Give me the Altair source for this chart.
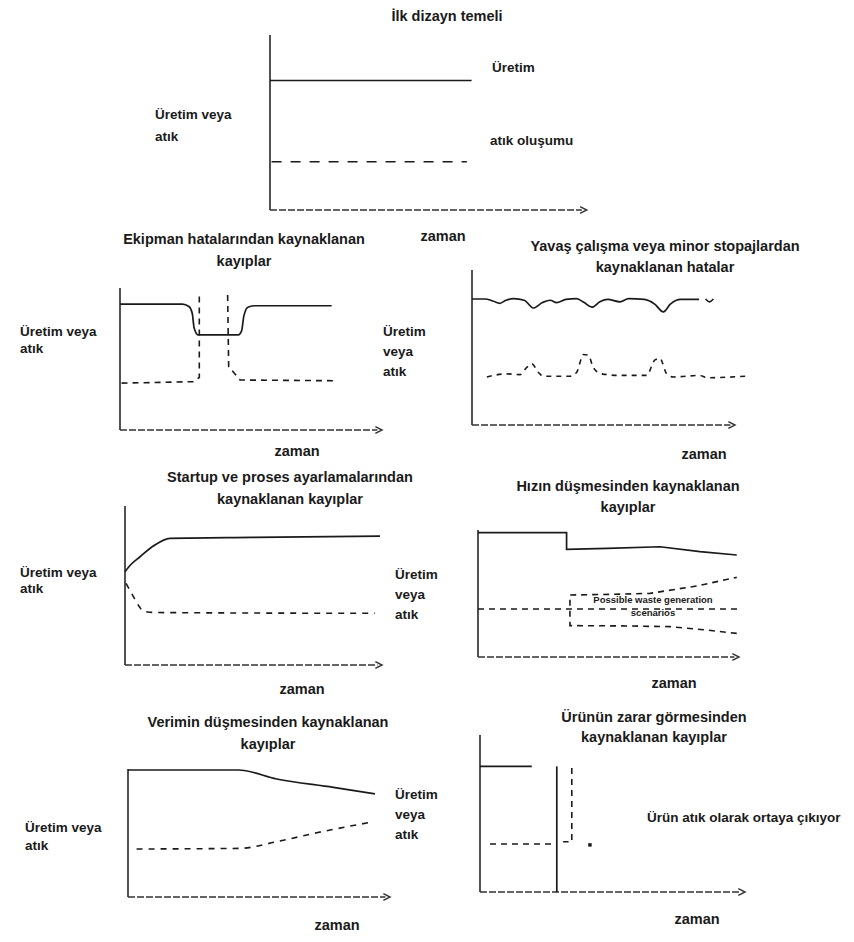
import altair as alt
import pandas as pd

# ------------------------------------------------------------------
# DATA  (local units: time 0-100 along the drawn time axis,
#        level 0-100 up the drawn vertical axis of each small diagram)
# ------------------------------------------------------------------
# 1) İlk dizayn temeli
TOP_PROD_X = [0, 64]
TOP_PROD_Y = [74, 74]
TOP_WASTE_X = [0.5, 62.5]
TOP_WASTE_Y = [27.6, 27.6]

# 2) Ekipman hatalarından kaynaklanan kayıplar
EQ_PROD_X = [0, 24, 26.5, 27.8, 28.5, 30, 45.5, 46.8, 47.6, 49.2, 52, 81.4]
EQ_PROD_Y = [88.7, 88.7, 87, 82, 72, 67, 67, 70, 80, 86.5, 87.5, 87.5]
EQ_WASTE_A_X = [0.6, 28, 30.5, 30.5]
EQ_WASTE_A_Y = [33, 34, 37, 95]
EQ_WASTE_B_X = [41.4, 41.8, 46.2, 82.7]
EQ_WASTE_B_Y = [95, 44.6, 35.2, 34.7]

# 3) Yavaş çalışma veya minor stopajlardan kaynaklanan hatalar
SLOW_PROD_X = [0, 5, 8, 10.7, 13, 16, 20, 23.5, 27, 30, 32.4, 36, 40, 43, 46,
               49, 52, 56.7, 60, 66, 70, 73.3, 76, 80, 87]
SLOW_PROD_Y = [81.3, 81.3, 80, 78.5, 80.5, 81.5, 80.5, 75.5, 79, 80.5, 79, 81,
               81.5, 79, 76, 79.5, 81, 79.5, 81.5, 81, 78, 73, 78, 81, 81]
SLOW_TAIL_X = [89.5, 91, 92.5]
SLOW_TAIL_Y = [81.3, 79.5, 81.3]
SLOW_WASTE_X = [5.7, 13.3, 18.4, 20.9, 22.9, 25.4, 27.3, 37.5, 40.1, 42.7, 44.6,
                46.5, 49.7, 56.7, 66.9, 70.1, 72, 74.6, 77.1, 87.4, 89.9, 105.2]
SLOW_WASTE_Y = [31, 33, 32.5, 37, 39.5, 34, 31.5, 31.5, 34, 45.5, 45, 37, 33,
                32, 32, 42, 43, 33, 31, 32, 30.5, 31.5]

# 4) Startup ve proses ayarlamalarından kaynaklanan kayıplar
START_PROD_X = [0, 2.5, 5.9, 11.1, 17.6, 50, 100]
START_PROD_Y = [58.7, 63.5, 68.1, 74.8, 79.7, 80.3, 81.1]
START_WASTE_X = [0.4, 3.3, 5.5, 7.2, 12, 98]
START_WASTE_Y = [51.4, 43, 37, 33.8, 33, 32.5]

# 5) Hızın düşmesinden kaynaklanan kayıplar
SPEED_PROD_X = [0, 34.2, 34.2, 50, 70.3, 85.7, 99.9]
SPEED_PROD_Y = [97.9, 97.9, 84.8, 85.5, 86.8, 82.9, 80.3]
SPEED_WASTE_X = [0, 100]
SPEED_WASTE_Y = [37.8, 37.8]
SPEED_RANGE_X = [99.9, 87, 74.1, 55, 35.5, 35.5, 55, 66.4, 84.4, 99.9]
SPEED_RANGE_Y = [18.6, 21.5, 23.9, 24.5, 24.7, 48.8, 49.5, 50.1, 55.9, 62.7]

# 6) Verimin düşmesinden kaynaklanan kayıplar
YIELD_PROD_X = [0, 42.4, 57.2, 79, 95]
YIELD_PROD_Y = [99.2, 99.2, 92.2, 85.7, 80.5]
YIELD_WASTE_X = [3.3, 43, 57.2, 72.6, 93.1]
YIELD_WASTE_Y = [37.5, 38, 43.2, 50.2, 58.3]

# 7) Ürünün zarar görmesinden kaynaklanan kayıplar
DMG_PROD_X = [0, 19.7]
DMG_PROD_Y = [80, 80]
DMG_DROP_X = [29.2, 29.2]
DMG_DROP_Y = [80, 0]
DMG_WASTE_X = [3.8, 28.5]
DMG_WASTE_Y = [30.6, 30.6]
DMG_SCRAP_X = [34.9, 34.9, 31.6]
DMG_SCRAP_Y = [79, 32, 32]
DMG_DOT_X = [41.8]
DMG_DOT_Y = [30]

# ---------------- text content ----------------
TITLES = {
    "top": ["İlk dizayn temeli"],
    "eq": ["Ekipman hatalarından kaynaklanan", "kayıplar"],
    "slow": ["Yavaş çalışma veya minor stopajlardan", "kaynaklanan hatalar"],
    "start": ["Startup ve proses ayarlamalarından", "kaynaklanan kayıplar"],
    "speed": ["Hızın düşmesinden kaynaklanan", "kayıplar"],
    "yield": ["Verimin düşmesinden kaynaklanan", "kayıplar"],
    "dmg": ["Ürünün zarar görmesinden", "kaynaklanan kayıplar"],
}
Y_LABEL_2 = ["Üretim veya", "atık"]
Y_LABEL_3 = ["Üretim", "veya", "atık"]
X_LABEL = "zaman"
TOP_NOTES = ["Üretim", "atık oluşumu"]
DMG_NOTE = ["Ürün atık olarak ortaya çıkıyor"]
BOX_NOTE = ["Possible waste generation", "scenarios"]

# ------------------------------------------------------------------
# LAYOUT (page pixels): cell rectangle, axis origin and axis lengths
# ------------------------------------------------------------------
PANELS = {
    "top":   dict(rect=(8, 8, 392, 220),   origin=(270, 210), length=(315, 175)),
    "eq":    dict(rect=(8, 228, 392, 237), origin=(120, 430), length=(260, 142)),
    "slow":  dict(rect=(400, 228, 446, 237), origin=(472, 425), length=(261, 155)),
    "start": dict(rect=(8, 465, 392, 240), origin=(125, 665), length=(255, 159)),
    "speed": dict(rect=(400, 465, 446, 240), origin=(478, 657), length=(259, 127)),
    "yield": dict(rect=(8, 705, 392, 229), origin=(128, 897), length=(260, 128)),
    "dmg":   dict(rect=(400, 705, 446, 229), origin=(480, 892), length=(263, 157)),
}
BLANK_CELL = (446, 220)
# (x, first-line y, line gap) for titles, y labels; (x, y) for "zaman"
TITLE_POS = {"top": (447, 17, 22), "eq": (244, 240, 22), "slow": (665, 247, 21),
             "start": (290, 478, 22), "speed": (628, 487, 21),
             "yield": (268, 723, 22), "dmg": (654, 718, 20)}
YLAB_POS = {"top": (155, 115, 22), "eq": (20, 332, 17), "slow": (383, 332, 20),
            "start": (20, 573, 16), "speed": (395, 575, 20),
            "yield": (25, 828, 18), "dmg": (395, 795, 20)}
YLAB_TEXT = {"top": Y_LABEL_2, "eq": Y_LABEL_2, "slow": Y_LABEL_3,
             "start": Y_LABEL_2, "speed": Y_LABEL_3, "yield": Y_LABEL_2,
             "dmg": Y_LABEL_3}
ZAMAN_POS = {"top": (443, 237), "eq": (297, 452), "slow": (704, 455),
             "start": (302, 690), "speed": (674, 684), "yield": (337, 926),
             "dmg": (697, 920)}

FONT = "Liberation Sans"
INK = "#1a1a1a"


def to_local(key, px, py):
    p = PANELS[key]
    ox, oy = p["origin"]
    lx, ly = p["length"]
    return (px - ox) / lx * 100.0, (oy - py) / ly * 100.0


def scales(key):
    p = PANELS[key]
    rx, ry, rw, rh = p["rect"]
    ox, oy = p["origin"]
    lx, ly = p["length"]
    xd = [(rx - ox) / lx * 100.0, (rx + rw - ox) / lx * 100.0]
    yd = [(oy - (ry + rh)) / ly * 100.0, (oy - ry) / ly * 100.0]
    return (alt.Scale(domain=xd, nice=False, zero=False),
            alt.Scale(domain=yd, nice=False, zero=False))


def seg_frame(segs):
    rows = []
    for name, xs, ys in segs:
        for i, (a, b) in enumerate(zip(xs, ys)):
            rows.append({"seg": name, "i": i, "x": a, "y": b})
    return pd.DataFrame(rows)


def text_frame(key, items):
    rows = []
    for txt, px, py in items:
        lx, ly = to_local(key, px, py)
        rows.append({"x": lx, "y": ly, "text": txt})
    return pd.DataFrame(rows)


def lines_layer(df, xs, ys, dash=None, interp="linear", width=1.7):
    kw = dict(color=INK, strokeWidth=width, interpolate=interp, clip=False)
    if dash:
        kw["strokeDash"] = dash
    return alt.Chart(df).mark_line(**kw).encode(
        x=alt.X("x:Q", scale=xs, axis=None),
        y=alt.Y("y:Q", scale=ys, axis=None),
        detail="seg:N",
        order=alt.Order("i:Q"),
    )


def text_layer(df, xs, ys, align="center", size=14.5, weight="bold"):
    return alt.Chart(df).mark_text(
        font=FONT, fontSize=size, fontWeight=weight, align=align,
        baseline="middle", color=INK, clip=False,
    ).encode(
        x=alt.X("x:Q", scale=xs, axis=None),
        y=alt.Y("y:Q", scale=ys, axis=None),
        text="text:N",
    )


def panel(key, solid, dashed, solid_interp="linear", dashed_interp="linear",
          dash=(6, 5), left_notes=(), small_notes=(), dots=None):
    xs, ys = scales(key)
    rw, rh = PANELS[key]["rect"][2], PANELS[key]["rect"][3]
    layers = []
    # vertical axis
    yax = pd.DataFrame({"x": [0], "y": [0], "x2": [0], "y2": [100]})
    layers.append(alt.Chart(yax).mark_rule(color="#262626", strokeWidth=1.6).encode(
        x=alt.X("x:Q", scale=xs, axis=None), y=alt.Y("y:Q", scale=ys, axis=None),
        x2="x2:Q", y2="y2:Q"))
    # time axis + arrow head
    xax = pd.DataFrame({"x": [0], "y": [0], "x2": [99], "y2": [0]})
    layers.append(alt.Chart(xax).mark_rule(color="#333333", strokeWidth=1.5,
                                           strokeDash=[7, 2]).encode(
        x=alt.X("x:Q", scale=xs, axis=None), y=alt.Y("y:Q", scale=ys, axis=None),
        x2="x2:Q", y2="y2:Q"))
    arrow = pd.DataFrame({"x": [99.5], "y": [0]})
    layers.append(alt.Chart(arrow).mark_point(
        shape="M -1 -1 L 1 0 L -1 1", filled=False, color="#333333",
        strokeWidth=1.4, size=45, opacity=1).encode(
        x=alt.X("x:Q", scale=xs, axis=None), y=alt.Y("y:Q", scale=ys, axis=None)))
    # curves
    if solid:
        layers.append(lines_layer(seg_frame(solid), xs, ys, interp=solid_interp))
    if dashed:
        layers.append(lines_layer(seg_frame(dashed), xs, ys, dash=list(dash),
                                  interp=dashed_interp, width=1.6))
    if dots:
        ddf = pd.DataFrame({"x": dots[0], "y": dots[1]})
        layers.append(alt.Chart(ddf).mark_point(shape="square", filled=True,
                                                color=INK, size=12, opacity=1).encode(
            x=alt.X("x:Q", scale=xs, axis=None), y=alt.Y("y:Q", scale=ys, axis=None)))
    # titles
    tx, ty, tg = TITLE_POS[key]
    items = [(t, tx, ty + k * tg) for k, t in enumerate(TITLES[key])]
    zx, zy = ZAMAN_POS[key]
    items.append((X_LABEL, zx, zy))
    layers.append(text_layer(text_frame(key, items), xs, ys, "center", 14.5))
    # vertical axis label and side notes
    lx0, ly0, lg = YLAB_POS[key]
    litems = [(t, lx0, ly0 + k * lg) for k, t in enumerate(YLAB_TEXT[key])]
    litems += list(left_notes)
    layers.append(text_layer(text_frame(key, litems), xs, ys, "left", 13.5))
    if small_notes:
        layers.append(text_layer(text_frame(key, small_notes), xs, ys, "center", 9.5))
    return alt.layer(*layers).properties(width=rw, height=rh)


top = panel("top",
            [("p", TOP_PROD_X, TOP_PROD_Y)],
            [("w", TOP_WASTE_X, TOP_WASTE_Y)],
            dash=(10, 9),
            left_notes=[(TOP_NOTES[0], 492, 68), (TOP_NOTES[1], 490, 141)])

# empty right-hand cell of the first grid row (the top diagram overflows into it)
blank = alt.Chart(pd.DataFrame({"x": [0], "y": [0]})).mark_point(opacity=0).encode(
    x=alt.X("x:Q", axis=None), y=alt.Y("y:Q", axis=None)
).properties(width=BLANK_CELL[0], height=BLANK_CELL[1])

eq = panel("eq",
           [("p", EQ_PROD_X, EQ_PROD_Y)],
           [("a", EQ_WASTE_A_X, EQ_WASTE_A_Y), ("b", EQ_WASTE_B_X, EQ_WASTE_B_Y)],
           solid_interp="monotone", dash=(6, 5))

slow = panel("slow",
             [("p", SLOW_PROD_X, SLOW_PROD_Y), ("t", SLOW_TAIL_X, SLOW_TAIL_Y)],
             [("w", SLOW_WASTE_X, SLOW_WASTE_Y)],
             solid_interp="monotone", dashed_interp="monotone", dash=(5, 5))

start = panel("start",
              [("p", START_PROD_X, START_PROD_Y)],
              [("w", START_WASTE_X, START_WASTE_Y)],
              solid_interp="monotone", dashed_interp="monotone", dash=(6, 6))

speed = panel("speed",
              [("p", SPEED_PROD_X, SPEED_PROD_Y)],
              [("w", SPEED_WASTE_X, SPEED_WASTE_Y), ("r", SPEED_RANGE_X, SPEED_RANGE_Y)],
              dash=(6, 5),
              small_notes=[(BOX_NOTE[0], 653, 600), (BOX_NOTE[1], 653, 613)])

yld = panel("yield",
            [("p", YIELD_PROD_X, YIELD_PROD_Y)],
            [("w", YIELD_WASTE_X, YIELD_WASTE_Y)],
            solid_interp="monotone", dashed_interp="monotone", dash=(6, 6))

dmg = panel("dmg",
            [("p", DMG_PROD_X, DMG_PROD_Y), ("d", DMG_DROP_X, DMG_DROP_Y)],
            [("w", DMG_WASTE_X, DMG_WASTE_Y), ("s", DMG_SCRAP_X, DMG_SCRAP_Y)],
            dash=(6, 5),
            left_notes=[(DMG_NOTE[0], 647, 818)],
            dots=(DMG_DOT_X, DMG_DOT_Y))

chart = alt.concat(
    top, blank, eq, slow, start, speed, yld, dmg,
    columns=2, spacing=0, bounds="flush", align="each",
).properties(padding=0, background="white").configure_view(strokeWidth=0)

chart.save("out.html", embed_options={"renderer": "svg", "actions": False})
